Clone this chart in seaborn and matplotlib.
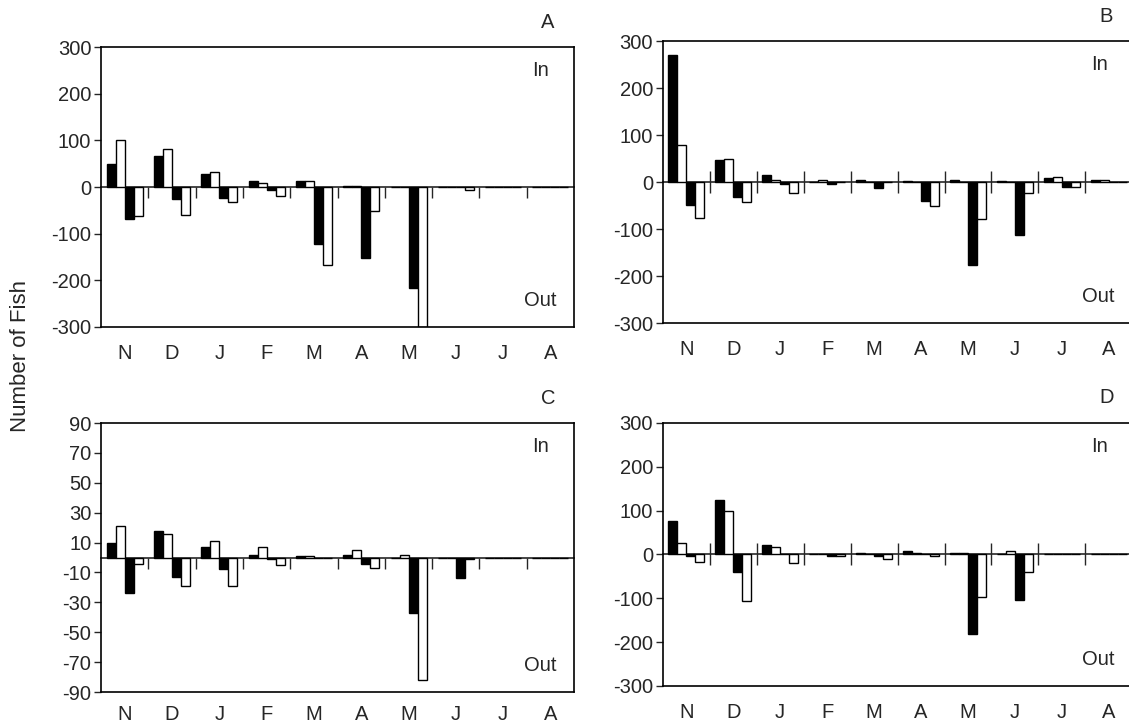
import pandas as pd
import seaborn as sns
import matplotlib.pyplot as plt

months = ['Nov', 'Dec', 'Jan', 'Feb', 'Mar', 'Apr', 'May', 'Jun', 'Jul', 'Aug']
month_letters = ['N', 'D', 'J', 'F', 'M', 'A', 'M', 'J', 'J', 'A']
series = ['In black', 'In white', 'Out black', 'Out white']

# panel A
a_in_black = [50, 67, 29, 13, 13, 3, 0, 0, 0, 0]
a_in_white = [100, 82, 32, 9, 13, 3, 0, 0, 0, 0]
a_out_black = [-68, -26, -23, -7, -123, -152, -216, 0, 0, 0]
a_out_white = [-61, -59, -32, -19, -167, -51, -300, -6, 0, 0]

# panel B
b_in_black = [270, 48, 16, 0, 6, 3, 6, 3, 9, 6]
b_in_white = [79, 50, 6, 6, 0, 0, 0, 0, 12, 6]
b_out_black = [-48, -32, -4, -3, -13, -39, -175, -112, -10, 0]
b_out_white = [-76, -41, -23, 0, 0, -51, -79, -22, -9, 0]

# panel C
c_in_black = [10, 18, 7, 2, 1, 2, 0, 0, 0, 0]
c_in_white = [21, 16, 11, 7, 1, 5, 2, 0, 0, 0]
c_out_black = [-24, -13, -8, -1, 0, -4, -37, -14, 0, 0]
c_out_white = [-4, -19, -19, -5, 0, -7, -82, -1, 0, 0]

# panel D
d_in_black = [76, 124, 21, 0, 3, 7, 3, 0, 0, 0]
d_in_white = [27, 100, 17, 0, 0, 4, 3, 7, 0, 0]
d_out_black = [-4, -39, 0, -3, -3, 0, -182, -104, 0, 0]
d_out_white = [-18, -106, -20, -3, -10, -3, -96, -39, 0, 0]

sns.set_style('white')
plt.rcParams['font.family'] = ['Liberation Sans', 'DejaVu Sans']
plt.rcParams['axes.unicode_minus'] = False

FS = 14.5


def make_frame(cols):
    rows = []
    for name, vals in zip(series, cols):
        for m, v in zip(months, vals):
            rows.append({'month': m, 'series': name, 'value': v})
    return pd.DataFrame(rows)


def draw_panel(ax, cols, lim, ticks, letter, tickdir, xpad=12):
    df = make_frame(cols)
    sns.barplot(data=df, x='month', y='value', hue='series', order=months,
                hue_order=series, palette=['black', 'white', 'black', 'white'],
                saturation=1, edgecolor='black', linewidth=1, width=0.76,
                legend=False, ax=ax)
    ax.set_ylim(-lim, lim)
    ax.set_xlim(-0.5, len(months) - 0.5)
    ax.set_yticks(ticks)
    ax.set_xticks(range(len(months)))
    ax.set_xticklabels(month_letters)
    ax.set_xlabel('')
    ax.set_ylabel('')
    ax.tick_params(axis='x', length=0, pad=xpad, labelsize=FS)
    ax.tick_params(axis='y', direction='out', length=5, width=1, left=True,
                   pad=2, labelsize=FS)
    for s in ax.spines.values():
        s.set_linewidth(1.2)
        s.set_color('black')

    # zero line with month separators
    sec = ax.secondary_xaxis(0.5)
    sec.set_alignment('bottom')
    sec.set_xticks([i + 0.5 for i in range(len(months) - 1)])
    sec.set_xticklabels([])
    if tickdir == 'inout':
        sec.tick_params(direction='inout', length=16, width=1)
    else:
        sec.tick_params(direction='out', length=8, width=1)
    sec.spines['bottom'].set_linewidth(1.2)

    ax.annotate(letter, (0.945, 1.0), xycoords='axes fraction',
                xytext=(0, 18), textcoords='offset points', fontsize=FS,
                ha='center', va='center')
    ax.annotate('In', (0.93, 1.0), xycoords='axes fraction',
                xytext=(0, -17), textcoords='offset points', fontsize=FS,
                ha='center', va='center')
    ax.annotate('Out', (0.928, 0.0), xycoords='axes fraction',
                xytext=(0, 19), textcoords='offset points', fontsize=FS,
                ha='center', va='center')


fig = plt.figure(figsize=(11.29, 7.25), dpi=100)
ax_a = fig.add_axes([0.0895, 0.549, 0.419, 0.386])
ax_b = fig.add_axes([0.587, 0.554, 0.416, 0.389])
ax_c = fig.add_axes([0.0895, 0.0455, 0.419, 0.371])
ax_d = fig.add_axes([0.587, 0.0538, 0.416, 0.363])

draw_panel(ax_a, [a_in_black, a_in_white, a_out_black, a_out_white],
           300, range(-300, 301, 100), 'A', 'out')
draw_panel(ax_b, [b_in_black, b_in_white, b_out_black, b_out_white],
           300, range(-300, 301, 100), 'B', 'inout')
draw_panel(ax_c, [c_in_black, c_in_white, c_out_black, c_out_white],
           90, range(-90, 91, 20), 'C', 'out', xpad=9.5)
draw_panel(ax_d, [d_in_black, d_in_white, d_out_black, d_out_white],
           300, range(-300, 301, 100), 'D', 'inout')

fig.text(0.018, 0.509, 'Number of Fish', rotation=90, fontsize=16,
         ha='center', va='center')

fig.savefig('out.png', dpi=100)
